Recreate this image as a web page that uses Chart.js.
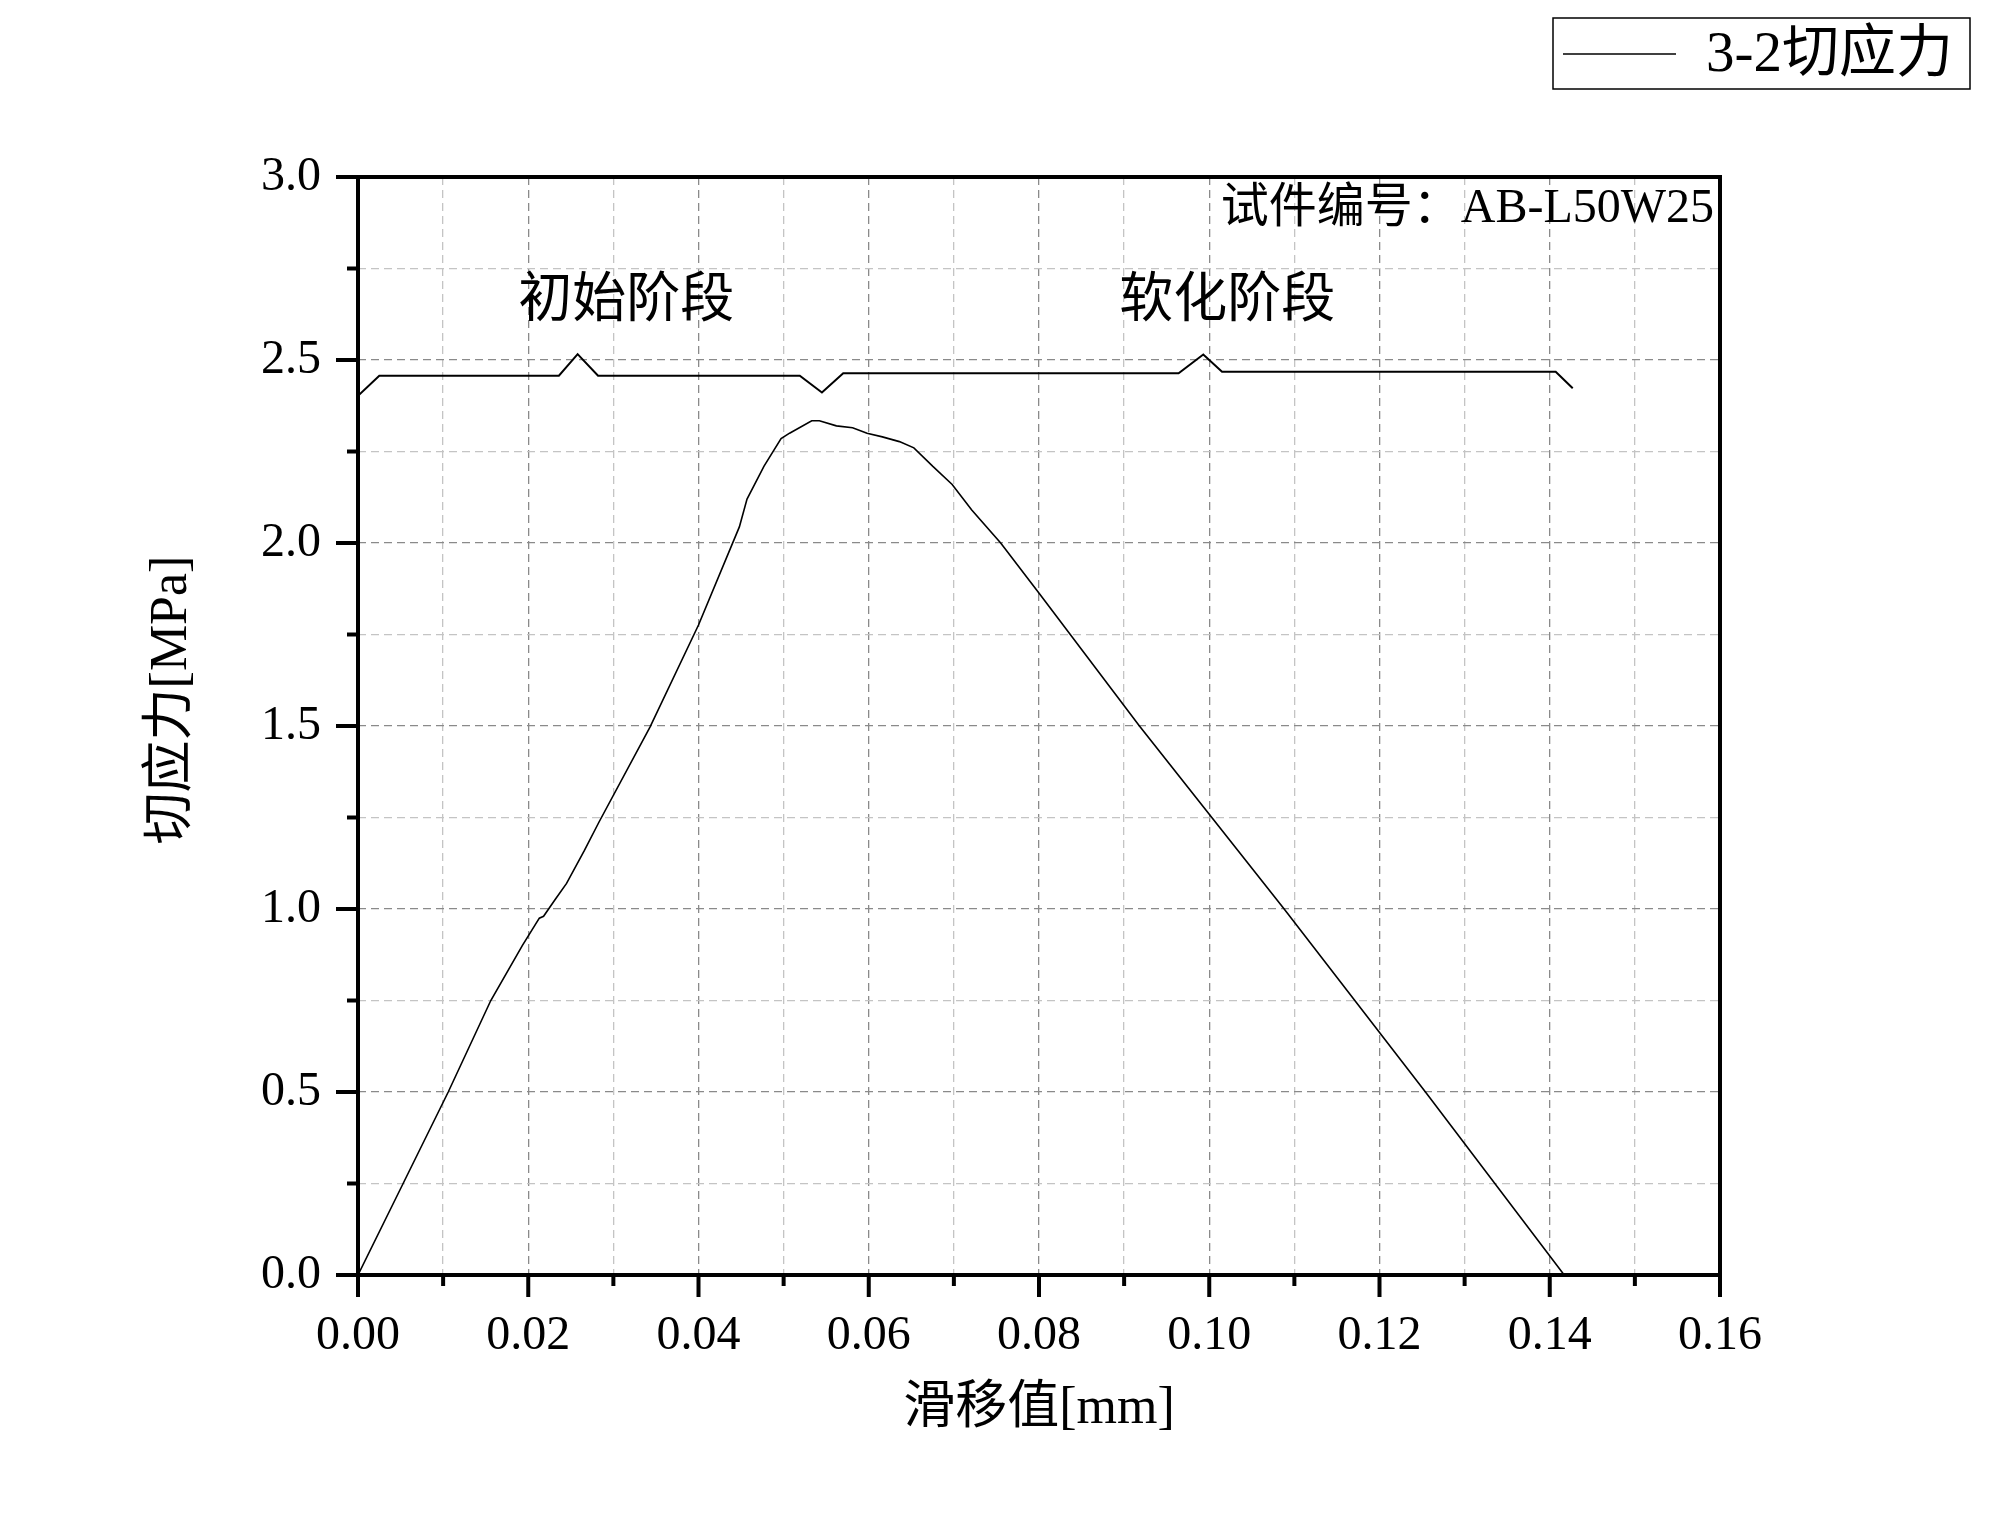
<!DOCTYPE html>
<html>
<head>
<meta charset="utf-8">
<script src="https://cdn.jsdelivr.net/npm/chart.js@4.4.1/dist/chart.umd.min.js"></script>
<style>
  html, body { margin: 0; padding: 0; background: #fff; }
  #wrap { width: 1999px; height: 1530px; }
</style>
</head>
<body>
<div id="wrap"><canvas id="graph" width="1999" height="1530"></canvas></div>
<script>
// slip [mm] vs shear stress [MPa]
const slip = [0, 0.0053, 0.0106, 0.0156, 0.0193, 0.0213, 0.0218, 0.0231, 0.0245, 0.0266,
  0.0283, 0.0343, 0.0400, 0.0448, 0.0457, 0.0477, 0.0497, 0.0507, 0.0533, 0.0542,
  0.0562, 0.0581, 0.0598, 0.0616, 0.0636, 0.0653, 0.0675, 0.0698, 0.0721, 0.0755,
  0.0801, 0.0918, 0.1088, 0.1254, 0.1417]
const shear = [0, 0.25, 0.50, 0.75, 0.90, 0.975, 0.98, 1.024, 1.07, 1.16,
  1.237, 1.497, 1.776, 2.044, 2.12, 2.21, 2.285, 2.30, 2.334, 2.334,
  2.32, 2.315, 2.30, 2.29, 2.277, 2.26, 2.21, 2.16, 2.09, 2.0,
  1.86, 1.50, 1.00, 0.50, 0]

// the brace line over the two stages
const braceX = [0, 0.0025, 0.0236, 0.0258, 0.0282, 0.0519, 0.0545, 0.0570, 0.0964, 0.0993, 0.1015, 0.1407, 0.1427]
const braceY = [2.402, 2.457, 2.457, 2.516, 2.457, 2.457, 2.411, 2.464, 2.464, 2.515, 2.468, 2.468, 2.423]

const xTicks = [0, 0.16, 0.01]   // min, max, step
const yTicks = [0, 3.0, 0.25]
const seriesName = '3-2切应力'
const xTitle = '滑移值[mm]'
const yTitle = '切应力[MPa]'
const stageLabels = ['初始阶段', '软化阶段']
const stageAt = [0.0315, 0.1021]
const specimen = '试件编号：AB-L50W25'

const serif = '"Liberation Serif", "Noto Sans CJK SC"'

let curve = slip.map((x, i) => ({x: x, y: shear[i]}))
let brace = braceX.map((x, i) => ({x: x, y: braceY[i]}))

function isMajorX(v) { return Math.round(v * 100) % 2 === 0 }
function isMajorY(v) { return Math.round(v * 100) % 50 === 0 }

const frame = {
    id: 'frame',
    afterDraw(chart) {
        const ctx = chart.ctx
        const a = chart.chartArea
        const xs = chart.scales.x, ys = chart.scales.y
        ctx.save()
        ctx.strokeStyle = '#000'
        ctx.lineWidth = 4
        ctx.strokeRect(a.left, a.top, a.right - a.left, a.bottom - a.top)
        // outward ticks
        ctx.lineCap = 'butt'
        xs.ticks.forEach(t => {
            const px = xs.getPixelForValue(t.value)
            const len = isMajorX(t.value) ? 22 : 11
            ctx.beginPath()
            ctx.moveTo(px, a.bottom)
            ctx.lineTo(px, a.bottom + len)
            ctx.stroke()
        })
        ys.ticks.forEach(t => {
            const py = ys.getPixelForValue(t.value)
            const len = isMajorY(t.value) ? 22 : 11
            ctx.beginPath()
            ctx.moveTo(a.left, py)
            ctx.lineTo(a.left - len, py)
            ctx.stroke()
        })

        ctx.fillStyle = '#000'
        ctx.textBaseline = 'middle'
        // axis titles
        ctx.font = '52px ' + serif
        ctx.textAlign = 'center'
        ctx.fillText(xTitle, (a.left + a.right) / 2, 1409)
        ctx.save()
        ctx.translate(172, 700)
        ctx.rotate(-Math.PI / 2)
        ctx.fillText(yTitle, 0, 0)
        ctx.restore()

        // stage labels
        ctx.font = '54px ' + serif
        stageLabels.forEach((s, i) => {
            ctx.fillText(s, xs.getPixelForValue(stageAt[i]), 303)
        })
        ctx.font = '48px ' + serif
        ctx.textAlign = 'right'
        ctx.fillText(specimen, a.right - 6, 209)

        // legend
        ctx.lineWidth = 1.5
        ctx.strokeRect(1553, 18, 417, 71)
        ctx.beginPath()
        ctx.moveTo(1563, 54)
        ctx.lineTo(1676, 54)
        ctx.stroke()
        ctx.font = '57px ' + serif
        ctx.textAlign = 'left'
        ctx.fillText(chart.data.datasets[0].label, 1706, 56)
        ctx.restore()
    }
}

var ctx = document.getElementById('graph').getContext('2d')
var chart = new Chart(ctx, {
    type: 'line',
    data: {
        datasets: [{
            label: seriesName,
            data: curve,
            borderColor: '#000',
            borderWidth: 1.6,
            pointRadius: 0,
            tension: 0
        }, {
            label: '',
            data: brace,
            borderColor: '#000',
            borderWidth: 2,
            pointRadius: 0,
            tension: 0
        }]
    },
    options: {
        responsive: false,
        devicePixelRatio: 1,
        animation: false,
        layout: { padding: { left: 0, top: 177, right: 279, bottom: 0 } },
        plugins: { legend: { display: false }, tooltip: { enabled: false } },
        scales: {
            x: {
                type: 'linear',
                min: xTicks[0], max: xTicks[1],
                afterFit: s => { s.height = 255 },
                ticks: {
                    stepSize: xTicks[2],
                    autoSkip: false,
                    maxRotation: 0,
                    padding: 33,
                    color: '#000',
                    font: { family: serif, size: 48 },
                    callback: v => isMajorX(v) ? v.toFixed(2) : ''
                },
                grid: {
                    drawTicks: false,
                    lineWidth: 1.3,
                    color: c => isMajorX(c.tick.value) ? '#8a8a8a' : '#c4c4c4'
                },
                border: { display: false, dash: [8, 5] }
            },
            y: {
                type: 'linear',
                min: yTicks[0], max: yTicks[1],
                afterFit: s => { s.width = 358 },
                ticks: {
                    stepSize: yTicks[2],
                    autoSkip: false,
                    padding: 37,
                    color: '#000',
                    font: { family: serif, size: 48 },
                    callback: v => isMajorY(v) ? v.toFixed(1) : ''
                },
                grid: {
                    drawTicks: false,
                    lineWidth: 1.3,
                    color: c => isMajorY(c.tick.value) ? '#8a8a8a' : '#c4c4c4'
                },
                border: { display: false, dash: [8, 5] }
            }
        }
    },
    plugins: [frame]
})
</script>
</body>
</html>
